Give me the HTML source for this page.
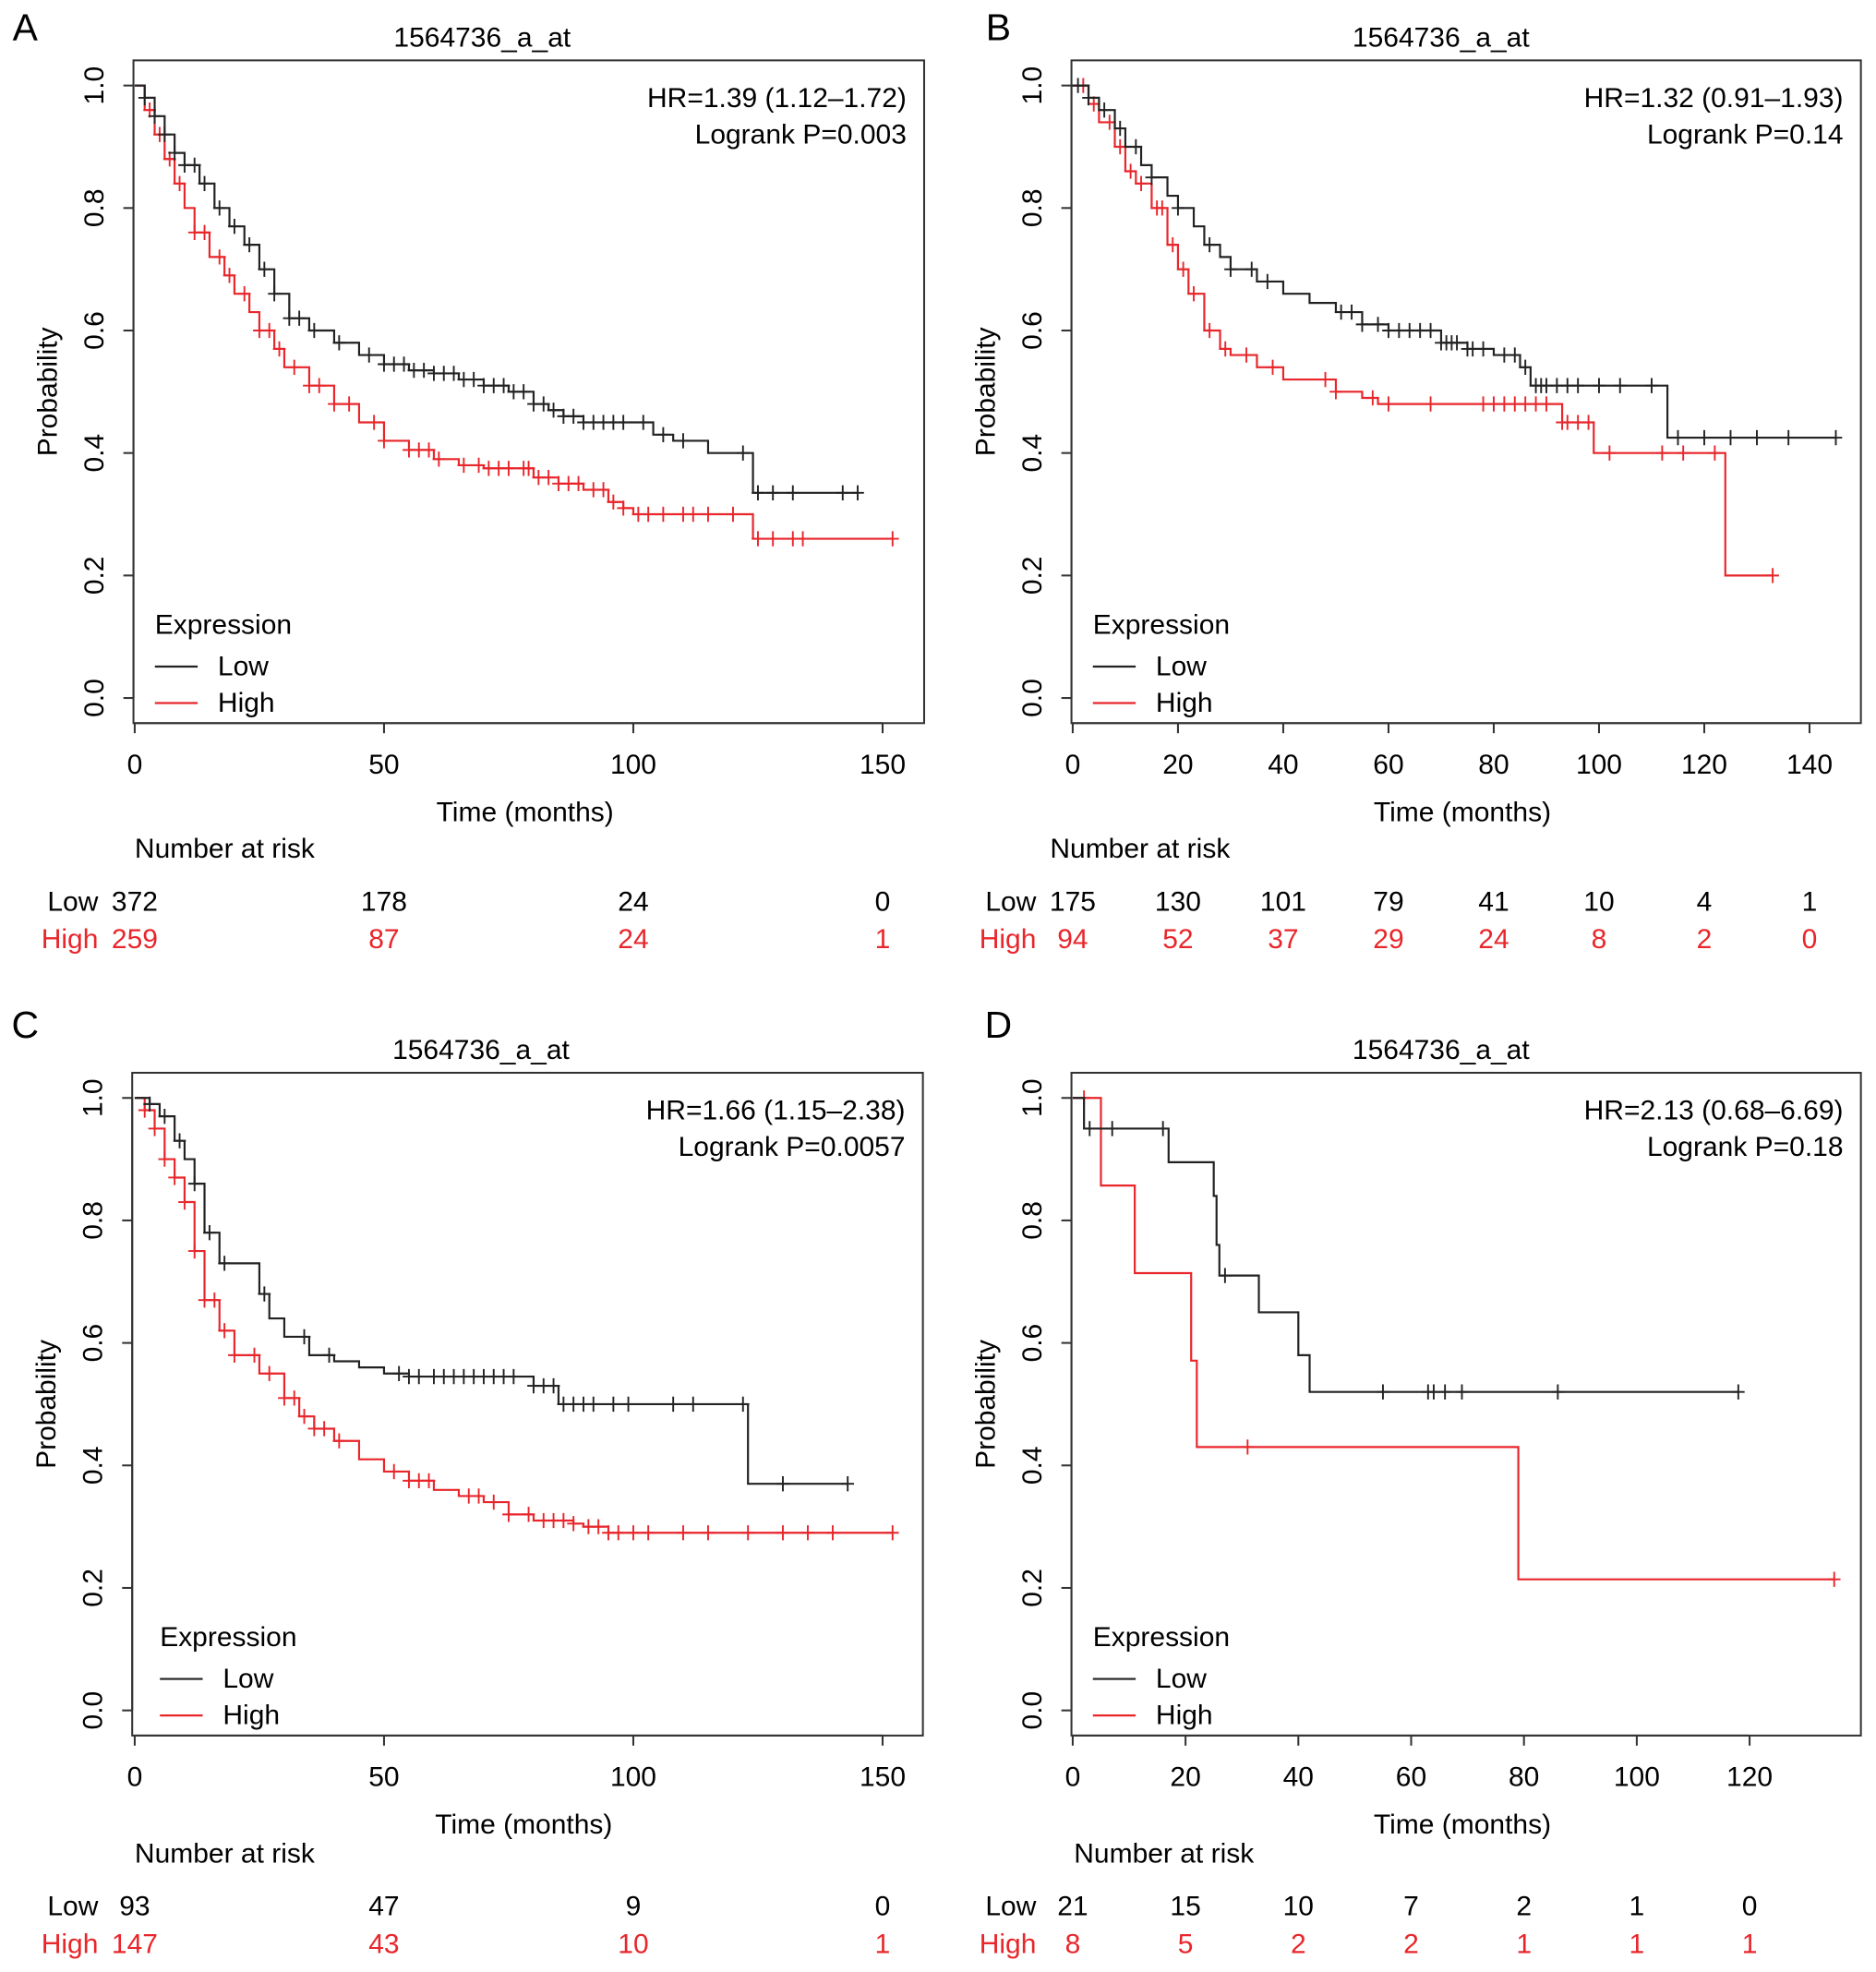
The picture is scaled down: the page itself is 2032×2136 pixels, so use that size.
<!DOCTYPE html>
<html><head><meta charset="utf-8">
<style>
html,body{margin:0;padding:0;background:#fff;}
svg{display:block;}
text{font-family:"Liberation Sans",Arial,sans-serif;}
</style></head>
<body>
<svg id="fig" width="2032" height="2136" viewBox="0 0 1490 1568" preserveAspectRatio="none" xmlns="http://www.w3.org/2000/svg"></svg>
<script>
// ---- Data ----
const panelLabels = ["A","B","C","D"];
const probeTitle = "1564736_a_at";
const hrTexts = ["HR=1.39 (1.12\u20131.72)","HR=1.32 (0.91\u20131.93)","HR=1.66 (1.15\u20132.38)","HR=2.13 (0.68\u20136.69)"];
const pTexts = ["Logrank P=0.003","Logrank P=0.14","Logrank P=0.0057","Logrank P=0.18"];
const xTicksA = [0,50,100,150];
const xTicksB = [0,20,40,60,80,100,120,140];
const xTicksC = [0,50,100,150];
const xTicksD = [0,20,40,60,80,100,120];
const yTicks = [0,0.2,0.4,0.6,0.8,1.0];
const riskLowA = [372,178,24,0], riskHighA = [259,87,24,1];
const riskLowB = [175,130,101,79,41,10,4,1], riskHighB = [94,52,37,29,24,8,2,0];
const riskLowC = [93,47,9,0], riskHighC = [147,43,10,1];
const riskLowD = [21,15,10,7,2,1,0], riskHighD = [8,5,2,2,1,1,1];

// step curves: times, survival
const lowTA = [0,2,4,6,8,10,13,16,19,22,25,28,31,35,40,45,50,55,60,65,70,75,80,83,86,90,100,104,108,115,124,145];
const lowSA = [1,0.98,0.95,0.92,0.89,0.87,0.84,0.8,0.77,0.74,0.7,0.66,0.62,0.6,0.58,0.56,0.545,0.535,0.53,0.52,0.51,0.5,0.48,0.47,0.46,0.45,0.45,0.43,0.42,0.4,0.335,0.335];
const highTA = [0,2,4,6,8,10,12,15,18,20,23,25,28,30,35,40,45,50,55,60,65,70,80,85,90,95,98,100,124,152];
const highSA = [1,0.96,0.92,0.88,0.84,0.8,0.76,0.72,0.69,0.66,0.63,0.6,0.57,0.54,0.51,0.48,0.45,0.42,0.405,0.39,0.38,0.375,0.36,0.35,0.34,0.32,0.31,0.30,0.26,0.26];
const lowCensA = [2,4,6,8,10,12,14,17,20,23,26,28,31,33,36,41,47,50,52,54,56,58,60,62,64,66,68,70,72,74,76,78,80,82,84,86,88,90,92,94,96,98,102,106,110,122,125,128,132,142,145];
const highCensA = [3,5,7,9,12,14,17,19,22,25,27,29,32,35,37,40,43,48,50,55,57,59,61,66,69,71,73,75,78,79,81,83,85,87,89,92,94,96,98,101,103,106,110,112,115,120,125,128,132,134,152];

const lowTB = [0,3,5,8,10,13,15,18,20,23,25,28,30,35,40,45,50,55,60,70,75,80,85,87,113,145];
const lowSB = [1,0.98,0.96,0.93,0.9,0.87,0.85,0.82,0.8,0.77,0.74,0.72,0.7,0.68,0.66,0.645,0.63,0.61,0.6,0.58,0.57,0.56,0.54,0.51,0.425,0.425];
const highTB = [0,3,5,8,10,12,15,18,20,22,25,28,30,35,40,50,55,58,93,99,124,133];
const highSB = [1,0.97,0.94,0.9,0.86,0.84,0.8,0.74,0.7,0.66,0.6,0.57,0.56,0.54,0.52,0.5,0.49,0.48,0.45,0.40,0.20,0.20];
const lowCensB = [1,3,6,9,12,15,20,26,30,34,37,51,53,55,58,60,62,64,66,68,70,71,72,73,75,76,78,82,84,86,88,89,90,92,94,96,100,104,110,115,120,125,130,136,145];
const highCensB = [2,4,7,9,11,13,16,17,19,21,23,26,29,33,38,48,50,57,60,68,78,80,82,84,86,88,90,93,94,96,98,102,112,116,122,133];

const lowTC = [0,3,5,8,10,12,14,17,22,25,27,30,35,40,45,50,55,80,85,123,143];
const lowSC = [1,0.99,0.97,0.93,0.9,0.86,0.78,0.73,0.73,0.68,0.64,0.61,0.58,0.57,0.56,0.55,0.545,0.53,0.5,0.37,0.37];
const highTC = [0,2,4,6,8,10,12,14,17,20,25,30,33,36,40,45,50,55,60,65,70,75,80,88,90,95,152];
const highSC = [1,0.98,0.95,0.9,0.87,0.83,0.75,0.67,0.62,0.58,0.55,0.51,0.48,0.46,0.44,0.41,0.39,0.375,0.36,0.35,0.34,0.32,0.31,0.305,0.3,0.29,0.29];
const lowCensC = [3,6,9,12,15,18,26,34,39,53,55,57,60,62,64,66,68,70,72,74,76,80,82,84,86,88,90,92,96,99,108,112,122,130,143];
const highCensC = [2,4,6,8,10,12,14,16,18,20,24,27,30,32,34,36,38,41,52,55,57,59,67,69,72,75,79,82,84,86,88,91,93,95,97,100,103,110,115,123,130,135,140,152];

const lowTD = [0,2,17,25,25.5,26,33,40,42,118];
const lowSD = [1,0.95,0.895,0.84,0.76,0.71,0.65,0.58,0.52,0.52];
const highTD = [0,5,11,21,22,79,135];
const highSD = [1,0.857,0.714,0.571,0.43,0.214,0.214];
const lowCensD = [3,7,16,27,55,63,64,66,69,86,118];
const highCensD = [2,31,135];

// ---- Drawing ----
const NS="http://www.w3.org/2000/svg";
const svg=document.getElementById('fig');
function mk(tag,attrs,parent,txt){const e=document.createElementNS(NS,tag);for(const k in attrs)e.setAttribute(k,attrs[k]);if(txt!==undefined)e.textContent=txt;(parent||svg).appendChild(e);return e;}
function stepAt(T,S,t){let s=S[0];for(let i=0;i<T.length;i++){if(T[i]<=t)s=S[i];}return s;}

const panels=[
 {bx:106,by:48,bw:628,bh:527,x0:107,xpm:3.96,xt:xTicksA,rl:riskLowA,rh:riskHighA,lt:lowTA,ls:lowSA,ht:highTA,hs:highSA,lc:lowCensA,hc:highCensA,leg:123,riskY:716,narX:107,tOff:-37},
 {bx:851,by:48,bw:627,bh:527,x0:852,xpm:4.18,xt:xTicksB,rl:riskLowB,rh:riskHighB,lt:lowTB,ls:lowSB,ht:highTB,hs:highSB,lc:lowCensB,hc:highCensB,leg:868,riskY:716,narX:834,tOff:-20},
 {bx:105,by:853,bw:628,bh:527,x0:107,xpm:3.96,xt:xTicksC,rl:riskLowC,rh:riskHighC,lt:lowTC,ls:lowSC,ht:highTC,hs:highSC,lc:lowCensC,hc:highCensC,leg:127,riskY:1515,narX:107,tOff:-37},
 {bx:851,by:853,bw:627,bh:527,x0:852,xpm:4.48,xt:xTicksD,rl:riskLowD,rh:riskHighD,lt:lowTD,ls:lowSD,ht:highTD,hs:highSD,lc:lowCensD,hc:highCensD,leg:868,riskY:1515,narX:853,tOff:-20}
];
const labelPos=[[20,22],[793,22],[20,815],[793,815]];

panels.forEach((p,i)=>{
 const g=mk('g',{});
 
 
 const y1=p.by+20, y0=p.by+507;
 const X=t=>p.x0+t*p.xpm;
 const Y=s=>y0-(y0-y1)*s;
 const lab=mk('text',{x:labelPos[i][0],y:labelPos[i][1]+10,'font-size':30,'text-anchor':'middle'},g,panelLabels[i]);
 
 const ti=mk('text',{x:p.bx+p.bw/2+p.tOff,y:p.by-11,'font-size':22,'text-anchor':'middle'},g,probeTitle);
 
 const box=mk('rect',{x:p.bx,y:p.by,width:p.bw,height:p.bh,fill:'none',stroke:'#333','stroke-width':1.5},g);
 
 mk('line',{x1:p.bx,y1:Y(0),x2:p.bx,y2:Y(1),stroke:'#333','stroke-width':1.5},g);
 yTicks.forEach(v=>{
  mk('line',{x1:p.bx,x2:p.bx-8,y1:Y(v),y2:Y(v),stroke:'#333','stroke-width':1.5},g);
  const t=mk('text',{x:0,y:0,'font-size':22,'text-anchor':'middle',transform:`translate(${p.bx-24},${Y(v)}) rotate(-90)`},g,v.toFixed(1));
  
 });
 const yl=mk('text',{x:0,y:0,'font-size':22,'text-anchor':'middle',transform:`translate(${p.bx-61},${(Y(0)+Y(1))/2}) rotate(-90)`},g,'Probability');
 
 const xt=p.xt;
 mk('line',{x1:X(xt[0]),x2:X(xt[xt.length-1]),y1:p.by+p.bh,y2:p.by+p.bh,stroke:'#333','stroke-width':1.5},g);
 xt.forEach((v,k)=>{
  mk('line',{x1:X(v),x2:X(v),y1:p.by+p.bh,y2:p.by+p.bh+8,stroke:'#333','stroke-width':1.5},g);
  const t=mk('text',{x:X(v),y:p.by+p.bh+40,'font-size':22,'text-anchor':'middle'},g,String(v));
  
  const rl=mk('text',{x:X(v),y:p.riskY+8,'font-size':22,'text-anchor':'middle',fill:'#000'},g,String(p.rl[k]));
  
  const rh=mk('text',{x:X(v),y:p.riskY+38,'font-size':22,'text-anchor':'middle',fill:'#e8262b'},g,String(p.rh[k]));
  
 });
 const xl=mk('text',{x:p.bx+p.bw/2-3,y:p.by+p.bh+78,'font-size':22,'text-anchor':'middle'},g,'Time (months)');
 
 const nar=mk('text',{x:p.narX,y:p.riskY-34,'font-size':22},g,'Number at risk');
 
 const lw=mk('text',{x:p.x0-29,y:p.riskY+8,'font-size':22,'text-anchor':'end'},g,'Low');
 
 const hg=mk('text',{x:p.x0-29,y:p.riskY+38,'font-size':22,'text-anchor':'end',fill:'#e8262b'},g,'High');
 
 const hr=mk('text',{x:p.bx+p.bw-14,y:p.by+37,'font-size':22,'text-anchor':'end'},g,hrTexts[i]);
 
 const pv=mk('text',{x:p.bx+p.bw-14,y:p.by+66,'font-size':22,'text-anchor':'end'},g,pTexts[i]);
 
 function curve(T,S,C,color,name){
  let d=`M${X(T[0])},${Y(S[0])}`;
  for(let k=1;k<T.length;k++){d+=` H${X(T[k])} V${Y(S[k])}`;}
  const path=mk('path',{d:d,fill:'none',stroke:color,'stroke-width':1.6},g);
  
  C.forEach(t=>{
   const cx=X(t),cy=Y(stepAt(T,S,t));
   const m=mk('path',{d:`M${cx},${cy-6} V${cy+6} M${cx-5},${cy} H${cx+5}`,stroke:color,'stroke-width':1.4,fill:'none'},g);
   
  });
 }
 curve(p.ht,p.hs,p.hc,'#e8262b','high');
 curve(p.lt,p.ls,p.lc,'#222','low');
 const ly=p.by+p.bh-71;
 const le=mk('text',{x:p.leg,y:ly,'font-size':22},g,'Expression');
 
 mk('line',{x1:p.leg,x2:p.leg+34,y1:ly+26,y2:ly+26,stroke:'#222','stroke-width':1.6},g);
 const l1=mk('text',{x:p.leg+50,y:ly+33,'font-size':22},g,'Low');
 
 mk('line',{x1:p.leg,x2:p.leg+34,y1:ly+55,y2:ly+55,stroke:'#e8262b','stroke-width':1.6},g);
 const l2=mk('text',{x:p.leg+50,y:ly+62,'font-size':22},g,'High');
 
});
</script>
</body></html>
